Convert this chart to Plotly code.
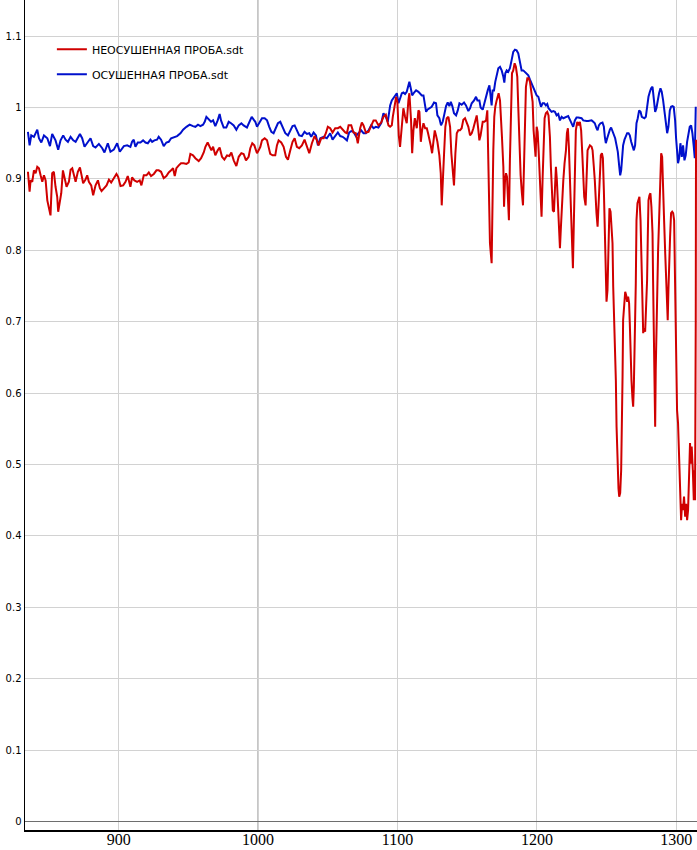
import plotly.graph_objects as go

# ---- data (wavenumber, value) ----
blue_wn = [834.9, 836.1, 837.3, 839.2, 841.6, 842.8, 844.5, 846.4, 848.8, 850.7, 852.3, 854.7, 856.6, 858.3,
           860.2, 861.9, 863.6, 865.5, 867.4, 869.1, 872.2, 873.8, 875.5, 877.4, 879.8, 881.7, 883.4, 885.8,
           888.2, 889.8, 892.2, 894.1, 896.5, 898.9, 900.8, 903.7, 906.1,
           908.4, 909.6, 910.8, 912.0, 913.7, 915.6, 917.5, 919.2, 920.9, 922.8, 924.0, 925.6, 927.5, 928.7,
           930.4, 932.3, 934.2, 935.9, 937.6, 939.5, 941.9, 944.3, 946.2, 948.6, 950.9, 953.3, 955.0, 956.9,
           958.6, 960.5, 961.7, 962.9, 964.6, 966.2, 967.7, 969.3, 971.0, 972.4, 973.4, 975.3, 977.2, 978.9,
           980.6, 982.5, 984.4, 986.1, 988.0, 989.6, 992.0, 993.9, 995.4, 996.8,
           998.0, 999.2, 1000.9, 1002.8, 1004.7, 1006.4, 1008.0, 1009.5, 1011.1, 1012.8, 1014.2, 1015.9, 1017.1,
           1018.3, 1019.5, 1021.4, 1023.1, 1024.7, 1026.2, 1027.8, 1029.5, 1031.4, 1033.3, 1035.0, 1036.7,
           1038.1, 1039.8, 1041.5, 1042.9, 1044.6, 1047.0, 1049.3, 1051.7, 1053.4, 1055.3, 1057.2, 1058.9,
           1060.6, 1062.0, 1063.7, 1065.3, 1066.8, 1068.4, 1070.1, 1072.0, 1073.9, 1075.6, 1077.3, 1079.2,
           1081.1, 1082.8, 1084.4, 1086.3, 1088.3, 1089.9, 1091.6, 1093.0,
           1094.7, 1095.9, 1097.1, 1098.3, 1099.5, 1100.7, 1101.8, 1103.1, 1104.2, 1105.4, 1106.6, 1107.8,
           1108.5, 1109.5, 1110.5, 1111.9, 1113.3, 1115.0, 1116.2, 1117.4, 1118.6, 1119.8, 1120.5, 1121.4,
           1122.9, 1124.5, 1126.2, 1127.6, 1128.6, 1130.0, 1131.2, 1132.4, 1133.4, 1134.8, 1136.0, 1137.2,
           1138.2, 1139.3, 1140.5, 1142.0, 1143.2, 1144.4, 1146.0, 1147.7, 1149.1, 1150.8, 1152.0, 1153.2,
           1154.9, 1156.3, 1157.3, 1158.7, 1159.6, 1161.1, 1162.3, 1163.5, 1164.7, 1165.9, 1166.8, 1167.5,
           1168.2, 1169.2, 1170.1, 1171.1, 1172.3, 1173.5, 1174.7, 1175.9, 1176.6, 1177.3, 1178.3, 1179.4,
           1180.6, 1181.8, 1183.0, 1184.2, 1185.4, 1186.6, 1187.8, 1189.0, 1190.2, 1191.4, 1192.6, 1193.8,
           1195.0, 1196.2, 1197.4, 1198.6, 1199.8, 1201.0, 1202.1, 1202.9, 1204.1, 1205.2, 1206.4, 1207.4,
           1208.3, 1209.3, 1210.5, 1211.7, 1212.9, 1214.1, 1215.3, 1216.5, 1217.7, 1218.9, 1220.0, 1221.2,
           1222.4, 1223.6, 1224.8, 1226.0, 1227.2, 1228.4, 1229.6, 1230.8, 1232.0, 1233.2, 1234.4, 1235.6,
           1236.8,
           1238.0, 1239.2, 1240.4, 1241.5, 1242.7, 1243.5, 1244.4, 1245.6, 1247.0, 1248.0, 1248.7, 1249.4,
           1250.4, 1251.3, 1252.3, 1253.2, 1254.2, 1255.2, 1256.1, 1257.1, 1258.0, 1259.0, 1259.7, 1260.4,
           1261.1, 1261.8, 1262.8, 1263.8, 1264.7, 1265.7, 1266.6, 1267.6, 1268.5, 1269.5, 1270.4, 1271.4,
           1272.3, 1273.3, 1274.3, 1275.2, 1276.2, 1277.1, 1278.1, 1279.0, 1280.0, 1281.0, 1281.9, 1282.9,
           1283.8, 1284.8, 1285.7, 1286.7, 1287.6, 1288.6, 1289.5, 1290.5, 1291.5, 1292.4, 1293.4, 1294.3,
           1295.3, 1296.2, 1297.2, 1298.1, 1299.1, 1299.8, 1300.5, 1301.2, 1302.0, 1302.9, 1303.9, 1304.8,
           1305.8, 1306.7, 1307.7, 1308.6, 1309.6, 1310.6, 1311.5, 1312.5, 1313.2, 1313.9]
blue_val = [0.966, 0.947, 0.961, 0.959, 0.969, 0.957, 0.951, 0.961, 0.957, 0.946, 0.963, 0.954, 0.941, 0.954,
            0.961, 0.955, 0.952, 0.959, 0.954, 0.952, 0.963, 0.957, 0.945, 0.950, 0.957, 0.946, 0.944, 0.949,
            0.943, 0.937, 0.950, 0.938, 0.941, 0.950, 0.938, 0.946, 0.947,
            0.945, 0.952, 0.955, 0.945, 0.951, 0.951, 0.954, 0.951, 0.950, 0.955, 0.952, 0.954, 0.955, 0.959,
            0.955, 0.946, 0.951, 0.952, 0.957, 0.958, 0.960, 0.964, 0.969, 0.973, 0.976, 0.974, 0.973, 0.976,
            0.974, 0.976, 0.980, 0.987, 0.983, 0.980, 0.982, 0.974, 0.982, 0.991, 0.982, 0.972, 0.972, 0.980,
            0.978, 0.975, 0.969, 0.975, 0.978, 0.975, 0.972, 0.980, 0.987, 0.983,
            0.980, 0.973, 0.979, 0.985, 0.985, 0.982, 0.973, 0.966, 0.964, 0.971, 0.978, 0.980, 0.975,
            0.971, 0.964, 0.961, 0.968, 0.974, 0.975, 0.968, 0.961, 0.960, 0.966, 0.963, 0.964,
            0.959, 0.965, 0.961, 0.947, 0.957, 0.959, 0.957, 0.964, 0.955, 0.961, 0.965, 0.960,
            0.959, 0.957, 0.954, 0.965, 0.967, 0.966, 0.960, 0.964, 0.968, 0.964, 0.964, 0.968,
            0.975, 0.971, 0.973, 0.972, 0.978, 0.992, 0.987, 0.980,
            1.003, 1.010, 1.013, 1.017, 1.020, 1.006, 1.013, 1.020, 1.021, 1.019, 1.022, 1.029,
            1.036, 1.027, 1.017, 1.021, 1.024, 1.022, 1.020, 1.017, 1.017, 1.003, 0.994, 0.997,
            0.999, 1.001, 1.007, 1.006, 0.989, 0.985, 0.975, 0.980, 0.989, 1.002, 1.007, 1.002,
            1.008, 1.002, 0.992, 0.989, 0.996, 1.006, 1.004, 1.007, 1.003, 0.995, 0.999, 1.006,
            1.010, 1.015, 1.010, 1.010, 1.000, 0.997, 1.006, 1.016, 1.024, 1.031, 1.015, 1.003,
            1.024, 1.024, 1.036, 1.043, 1.055, 1.057, 1.052, 1.043, 1.035, 1.048, 1.052, 1.050,
            1.055, 1.066, 1.078, 1.081, 1.080, 1.076, 1.066, 1.052, 1.052, 1.050, 1.048, 1.045,
            1.039, 1.034, 1.029, 1.022, 1.017, 1.015, 1.008, 1.001, 1.006, 1.006, 1.003, 1.005,
            0.999, 0.996, 0.994, 0.995, 0.994, 0.989, 0.991, 0.982, 0.987, 0.985, 0.986, 0.988,
            0.988, 0.983, 0.978, 0.973, 0.982, 0.986, 0.986, 0.985, 0.985, 0.982, 0.981, 0.981,
            0.981,
            0.982, 0.982, 0.980, 0.978, 0.971, 0.968, 0.975, 0.978, 0.979, 0.973, 0.959, 0.950,
            0.957, 0.964, 0.969, 0.972, 0.966, 0.961, 0.957, 0.947, 0.938, 0.918, 0.905, 0.912,
            0.926, 0.947, 0.955, 0.960, 0.964, 0.964, 0.961, 0.952, 0.945, 0.940, 0.947, 0.978,
            0.985, 0.996, 0.994, 0.987, 0.986, 0.985, 0.987, 1.001, 1.015, 1.022, 1.027, 1.029,
            1.013, 0.994, 0.999, 1.013, 1.020, 1.027, 1.022, 1.010, 0.996, 0.978, 0.964, 0.973,
            0.996, 1.001, 1.002, 1.001, 0.982, 0.957, 0.929, 0.922, 0.929, 0.950, 0.931, 0.947,
            0.926, 0.933, 0.952, 0.964, 0.973, 0.975, 0.964, 0.945, 0.929, 1.001]

red_wn = [834.9, 836.1, 836.8, 838.0, 839.2, 840.4, 841.6, 842.8, 844.0, 845.2, 846.4, 847.6, 848.8, 850.0,
          851.1, 852.3, 853.5, 854.7, 855.9, 856.6, 857.8, 858.8, 860.0, 861.2, 862.6, 864.3, 865.5, 866.7,
          867.9, 869.1, 870.7, 872.2, 873.4, 874.5, 876.2, 877.4, 878.6, 880.3, 881.7, 883.4, 885.1, 886.5,
          887.7, 889.4, 891.3, 893.0, 894.6, 896.5, 898.4, 899.6, 901.3, 903.2, 904.9, 906.5,
          908.4, 909.6, 911.3, 913.2, 915.1, 916.3, 918.0, 919.9, 921.6, 923.2, 925.2, 927.1, 928.7, 930.4,
          932.3, 934.2, 935.9, 937.6, 939.0, 940.2, 941.4, 943.1, 944.7, 946.6, 948.6, 950.2, 951.4, 953.3,
          955.0, 957.4, 959.1, 961.0, 962.2, 963.8, 965.3, 966.5, 967.7, 969.3, 971.0, 972.4, 974.1, 975.8,
          977.7, 979.4, 980.8, 982.5, 984.4, 986.1, 988.0, 989.6, 991.3, 993.2, 994.4, 995.8, 997.3,
          998.0, 999.2, 1000.4, 1001.6, 1002.8, 1004.7, 1006.4, 1007.5, 1008.7, 1010.4, 1012.3, 1013.5,
          1014.7, 1016.6, 1018.3, 1020.0, 1021.4, 1023.1, 1024.7, 1026.2, 1027.8, 1029.5, 1031.4, 1033.3,
          1035.0, 1036.7, 1038.6, 1040.5, 1042.2, 1043.4, 1045.3, 1047.0, 1048.6, 1050.0, 1051.7, 1053.4,
          1055.3, 1057.2, 1058.9, 1060.6, 1062.5, 1063.7, 1064.9, 1066.8, 1068.4, 1070.1, 1071.5, 1073.2,
          1074.4, 1075.6, 1077.3, 1079.2, 1081.1, 1082.8, 1084.4, 1086.3, 1088.3, 1089.9, 1091.6, 1093.5,
          1094.7, 1095.9, 1096.6, 1097.6, 1099.0, 1099.9, 1100.9, 1101.8, 1103.1, 1104.2, 1105.4, 1106.6,
          1107.8, 1108.5, 1109.7, 1110.5, 1111.4, 1112.4, 1113.8, 1115.0, 1115.7, 1116.7, 1117.6, 1118.6,
          1119.8, 1121.0, 1121.9, 1122.9, 1123.8, 1124.8, 1125.7, 1126.7, 1127.6, 1128.6, 1130.0, 1131.0,
          1131.7, 1132.4, 1133.4, 1134.3, 1135.3, 1136.5, 1137.7, 1138.6, 1139.6, 1140.5, 1141.5, 1142.5,
          1143.6, 1144.8, 1146.0, 1147.2, 1148.4, 1149.6, 1150.8, 1152.0, 1153.2, 1154.4, 1155.6, 1156.8,
          1158.0, 1158.7, 1159.6, 1161.1, 1162.3, 1163.5, 1164.4, 1165.4,
          1166.3, 1167.5, 1168.2, 1168.7, 1169.4, 1170.1, 1171.1, 1171.8, 1172.5, 1173.5, 1174.2, 1174.9,
          1175.9, 1176.4, 1177.1, 1177.8, 1178.5, 1179.2, 1179.9, 1180.6, 1181.4, 1182.1, 1183.0, 1184.0,
          1184.9, 1185.9, 1186.6, 1187.3, 1188.3, 1189.2, 1190.0, 1190.7, 1191.4, 1192.1, 1193.1, 1194.0,
          1195.0, 1195.9, 1196.9, 1197.6, 1198.3, 1199.0, 1199.8, 1200.5, 1201.2, 1201.9, 1202.6, 1203.3,
          1204.1, 1204.8, 1205.5, 1206.4, 1207.4, 1208.3, 1209.3, 1210.0, 1210.7, 1211.4, 1212.2, 1212.9,
          1213.6, 1214.3, 1215.0, 1215.7, 1216.5, 1217.2, 1218.1, 1218.9, 1219.8, 1220.8, 1221.5, 1222.2,
          1222.9, 1223.6, 1224.6, 1225.3, 1225.8, 1226.5, 1227.2, 1227.9, 1228.9, 1229.8, 1230.8, 1231.7,
          1232.5, 1233.2, 1233.9, 1234.9, 1235.6, 1236.3,
          1238.0, 1239.2, 1239.9, 1240.4, 1240.8, 1241.5, 1242.0, 1242.7, 1243.5, 1244.2, 1245.1, 1245.8,
          1246.6, 1247.3, 1248.0, 1248.7, 1249.2, 1249.9, 1250.6, 1251.3, 1252.0, 1252.8, 1253.5, 1254.2,
          1254.7, 1255.2, 1255.9, 1256.6, 1257.1, 1257.8, 1258.5, 1259.0, 1259.7, 1260.4, 1260.9, 1261.4,
          1261.8, 1262.6, 1263.3, 1264.0, 1264.7, 1265.4, 1266.1, 1266.6, 1267.1, 1267.8, 1268.5, 1269.0,
          1269.5, 1270.0, 1270.4, 1270.9, 1271.4, 1272.1, 1272.8, 1273.5, 1274.3, 1274.7, 1275.2, 1275.7,
          1276.2, 1276.9, 1277.6, 1278.3, 1279.0, 1279.5, 1280.0, 1280.7, 1281.4, 1282.1, 1282.9, 1283.3,
          1283.8, 1284.3, 1284.8, 1285.2, 1285.7, 1286.2, 1286.9, 1287.6, 1288.3, 1289.1, 1289.8, 1290.5,
          1291.2, 1292.0, 1292.6, 1293.4, 1293.8, 1294.3, 1294.8, 1295.5, 1296.2, 1297.0, 1297.7, 1298.4,
          1298.9, 1299.3, 1299.8, 1300.5, 1301.2, 1302.0, 1302.7, 1303.4, 1304.1, 1304.8, 1305.5, 1306.3,
          1307.0, 1307.7, 1308.4, 1309.1, 1309.8, 1310.3, 1311.0, 1311.8, 1312.5, 1313.0, 1313.4, 1313.9,
          1314.1]
red_val = [0.910, 0.882, 0.898, 0.896, 0.912, 0.908, 0.917, 0.915, 0.905, 0.896, 0.905, 0.898, 0.870, 0.856,
           0.849, 0.908, 0.910, 0.889, 0.875, 0.854, 0.870, 0.880, 0.912, 0.901, 0.889, 0.896, 0.913, 0.915,
           0.904, 0.896, 0.910, 0.916, 0.905, 0.894, 0.899, 0.905, 0.896, 0.891, 0.877, 0.891, 0.898, 0.887,
           0.883, 0.887, 0.891, 0.899, 0.895, 0.901, 0.907, 0.903, 0.890, 0.891, 0.896, 0.904,
           0.889, 0.902, 0.898, 0.896, 0.898, 0.891, 0.905, 0.905, 0.909, 0.904, 0.907, 0.912, 0.912, 0.910,
           0.901, 0.904, 0.909, 0.912, 0.915, 0.904, 0.915, 0.919, 0.922, 0.922, 0.921, 0.923, 0.935, 0.933,
           0.929, 0.925, 0.929, 0.937, 0.945, 0.951, 0.945, 0.940, 0.945, 0.933, 0.940, 0.944, 0.931, 0.927,
           0.933, 0.932, 0.937, 0.926, 0.918, 0.931, 0.936, 0.935, 0.926, 0.931, 0.943, 0.950, 0.947,
           0.943, 0.936, 0.940, 0.945, 0.954, 0.957, 0.954, 0.945, 0.935, 0.933, 0.933, 0.947,
           0.954, 0.951, 0.945, 0.931, 0.927, 0.940, 0.952, 0.957, 0.945, 0.943, 0.947, 0.955,
           0.945, 0.936, 0.950, 0.960, 0.954, 0.947, 0.957, 0.957, 0.964, 0.973, 0.971, 0.965,
           0.971, 0.971, 0.973, 0.969, 0.965, 0.964, 0.975, 0.975, 0.965, 0.964, 0.950, 0.971,
           0.979, 0.975, 0.965, 0.966, 0.975, 0.982, 0.982, 0.975, 0.979, 0.987, 0.990, 0.975,
           0.973, 0.975, 0.987, 1.001, 1.015, 1.008, 0.961, 0.945, 0.973, 0.999, 0.987, 0.978,
           1.010, 1.020, 0.982, 0.936, 0.968, 0.985, 0.971, 0.996, 0.994, 0.952, 0.968, 0.978,
           0.971, 0.971, 0.964, 0.957, 0.947, 0.936, 0.952, 0.968, 0.961, 0.952, 0.933, 0.908,
           0.863, 0.901, 0.936, 0.973, 0.985, 0.987, 0.973, 0.936, 0.912, 0.891, 0.936, 0.964,
           0.968, 0.968, 0.971, 0.983, 0.985, 0.978, 0.973, 0.961, 0.964, 0.971, 0.982, 0.989,
           0.968, 0.954, 0.961, 0.980, 0.980, 0.982, 0.996, 0.912,
           0.810, 0.782, 0.898, 0.940, 0.987, 1.001, 1.010, 1.017, 1.020, 1.010, 0.989, 0.959,
           0.917, 0.861, 0.898, 0.908, 0.903, 0.875, 0.842, 0.926, 1.001, 1.048, 1.052, 1.062,
           1.057, 1.043, 1.001, 0.950, 0.905, 0.880, 0.863, 0.917, 0.978, 1.029, 1.041, 1.041,
           1.036, 1.024, 1.008, 0.968, 0.940, 0.931, 0.973, 0.966, 0.940, 0.908, 0.870, 0.847,
           0.903, 0.954, 0.985, 0.992, 0.994, 0.989, 0.959, 0.917, 0.889, 0.856, 0.854, 0.884,
           0.917, 0.898, 0.861, 0.833, 0.803, 0.833, 0.875, 0.898, 0.922, 0.940, 0.964, 0.971,
           0.945, 0.908, 0.852, 0.805, 0.775, 0.842, 0.917, 0.968, 0.980, 0.975, 0.980, 0.968,
           0.936, 0.908, 0.875, 0.863, 0.908, 0.940,
           0.947, 0.945, 0.940, 0.931, 0.917, 0.898, 0.873, 0.852, 0.833, 0.870, 0.912, 0.933,
           0.936, 0.929, 0.884, 0.828, 0.796, 0.728, 0.744, 0.814, 0.859, 0.854, 0.838, 0.810,
           0.749, 0.719, 0.679, 0.618, 0.553, 0.492, 0.466, 0.455, 0.460, 0.492, 0.544, 0.623,
           0.702, 0.728, 0.742, 0.737, 0.728, 0.735, 0.726, 0.698, 0.656, 0.618, 0.593, 0.581,
           0.609, 0.646, 0.702, 0.754, 0.842, 0.866, 0.873, 0.875, 0.842, 0.796, 0.768, 0.726,
           0.684, 0.691, 0.686, 0.716, 0.758, 0.819, 0.870, 0.877, 0.880, 0.861, 0.824, 0.758,
           0.656, 0.586, 0.553, 0.632, 0.702, 0.772, 0.800, 0.842, 0.898, 0.936, 0.931, 0.898,
           0.842, 0.796, 0.768, 0.730, 0.702, 0.744, 0.796, 0.819, 0.852, 0.854, 0.852, 0.842,
           0.777, 0.702, 0.632, 0.576, 0.558, 0.506, 0.455, 0.422, 0.445, 0.436, 0.455, 0.427,
           0.445, 0.422, 0.436, 0.483, 0.530, 0.501, 0.525, 0.492, 0.450, 0.492, 0.450, 0.702,
           0.955]

series_names = ["НЕОСУШЕННАЯ ПРОБА.sdt", "ОСУШЕННАЯ ПРОБА.sdt"]
x_ticks = [900, 1000, 1100, 1200, 1300]
y_ticks = [0, 0.1, 0.2, 0.3, 0.4, 0.5, 0.6, 0.7, 0.8, 0.9, 1, 1.1]
y_tick_text = ["0", "0.1", "0.2", "0.3", "0.4", "0.5", "0.6", "0.7", "0.8", "0.9", "1", "1.1"]

RED = "#d00000"
BLUE = "#0010cc"

fig = go.Figure()
fig.add_trace(go.Scatter(x=blue_wn, y=blue_val, mode="lines", name=series_names[1],
                         line=dict(color=BLUE, width=2), legendgroup="b", legendrank=2))
fig.add_trace(go.Scatter(x=red_wn, y=red_val, mode="lines", name=series_names[0],
                         line=dict(color=RED, width=2), legendgroup="a", legendrank=1))

# darker reference lines (y = 1, x = 1000)
fig.add_shape(type="line", xref="paper", x0=0, x1=1, yref="y", y0=1, y1=1,
              line=dict(color="#6e6e6e", width=1), layer="below")
fig.add_shape(type="line", xref="x", x0=1000, x1=1000, yref="paper", y0=0, y1=1,
              line=dict(color="#6e6e6e", width=1), layer="below")

fig.update_layout(
    width=697, height=850,
    margin=dict(l=25, r=0, t=0, b=20),
    paper_bgcolor="white", plot_bgcolor="white",
    showlegend=True,
    legend=dict(x=0.04, y=0.958, xanchor="left", yanchor="top",
                bgcolor="rgba(0,0,0,0)", borderwidth=0,
                font=dict(family="DejaVu Sans", size=11, color="#000000"),
                tracegroupgap=6, itemwidth=30),
    xaxis=dict(range=[832.8, 1314.8], tickmode="array", tickvals=x_ticks,
               ticktext=[str(v) for v in x_ticks], automargin=False,
               ticklabelstandoff=-6,
               showgrid=True, gridcolor="#d2d2d2", gridwidth=1, zeroline=False,
               showline=True, linecolor="#000000", linewidth=1.5, ticks="",
               tickfont=dict(family="Liberation Serif", size=16, color="#000000")),
    yaxis=dict(range=[-0.0119, 1.1506], tickmode="array", tickvals=y_ticks, ticktext=y_tick_text,
               automargin=False,
               showgrid=True, gridcolor="#d2d2d2", gridwidth=1,
               zeroline=True, zerolinecolor="#6e6e6e", zerolinewidth=1,
               showline=True, linecolor="#000000", linewidth=1.5, ticks="",
               tickfont=dict(family="DejaVu Sans", size=10, color="#000000")),
)

fig.write_html("out.html", config={"displayModeBar": False, "staticPlot": True},
               post_script="document.body.style.margin='0';document.body.style.overflow='hidden';")
